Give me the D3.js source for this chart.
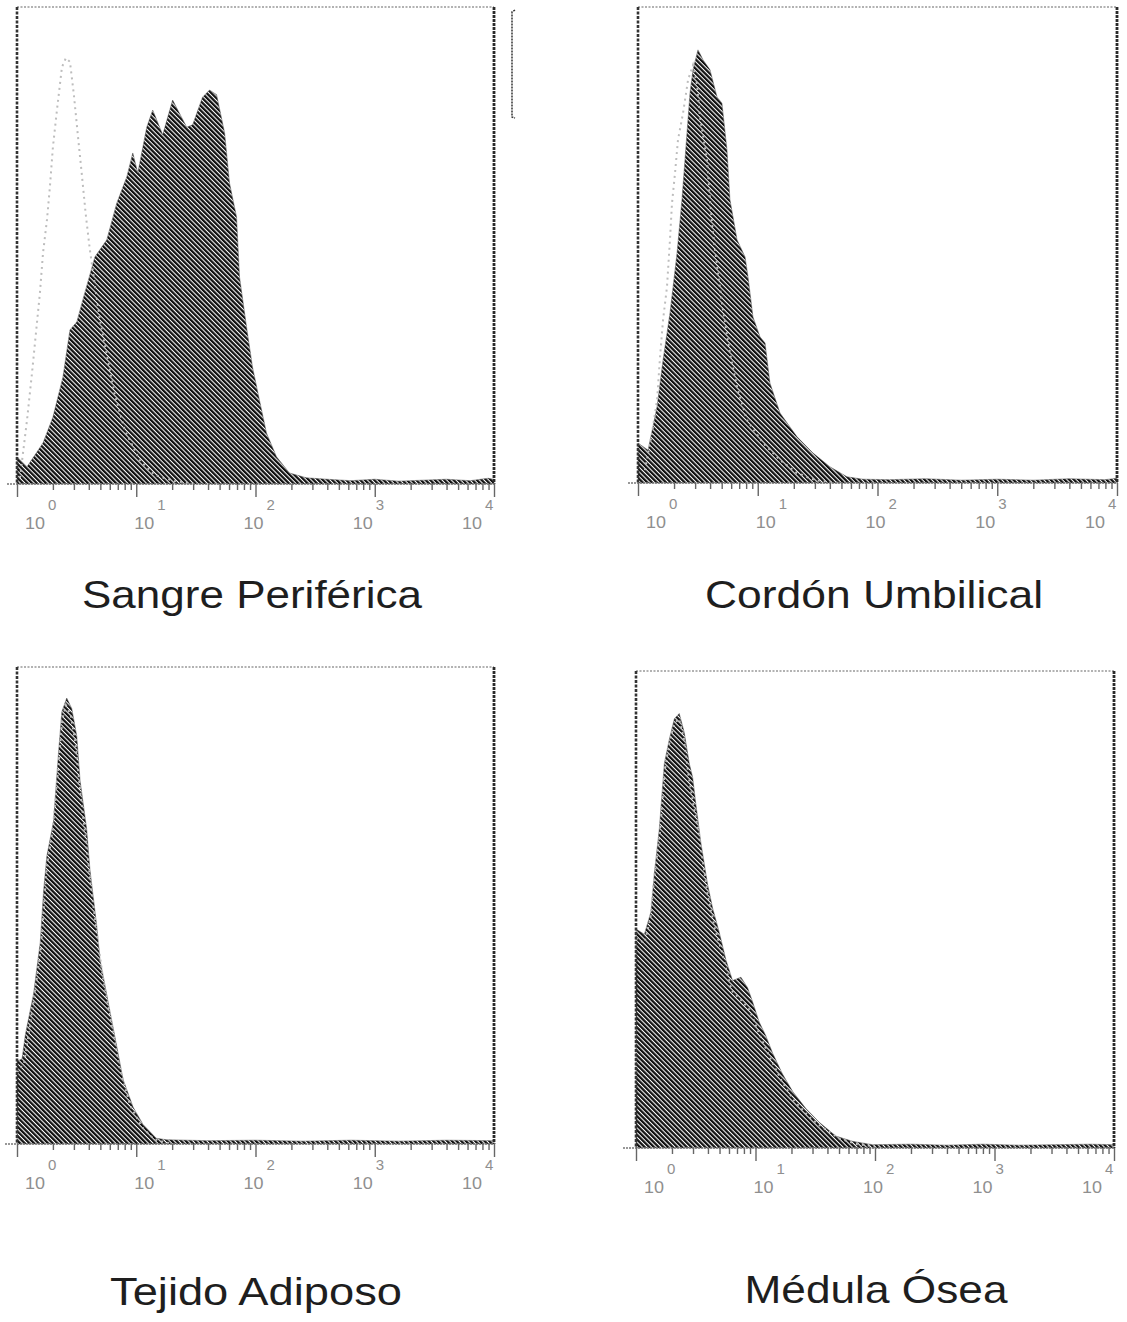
<!DOCTYPE html>
<html><head><meta charset="utf-8">
<script src="https://cdn.jsdelivr.net/npm/d3@7"></script>
<style>body{margin:0;background:#fff}svg{display:block}</style>
</head><body>
<svg id="c" width="1127" height="1322"></svg>
<script>
// ---------- DATA ----------
const categories = ["Sangre Periférica", "Cordón Umbilical", "Tejido Adiposo", "Médula Ósea"];
const tickExponents = [0, 1, 2, 3, 4];
const tickLabelBase = "10";
const minorMultipliers = [2, 3, 4, 5, 6, 7, 8, 9];

// [log10(intensity), relative count %]
const sangreStained = [[0,5.7],[0.084,3.6],[0.218,8.6],[0.301,14.0],[0.385,22.4],[0.444,32.3],[0.502,34.0],[0.552,38.6],[0.653,47.6],[0.753,51.2],[0.837,58.9],[0.921,64.4],[0.971,69.4],[1.013,65.2],[1.088,74.8],[1.138,78.4],[1.222,73.2],[1.305,80.5],[1.423,74.8],[1.473,75.3],[1.556,81.1],[1.615,82.6],[1.674,81.6],[1.741,73.6],[1.782,63.1],[1.841,56.0],[1.866,43.4],[1.925,32.9],[1.975,24.5],[2.033,17.6],[2.092,10.7],[2.176,5.7],[2.285,2.3],[2.427,1.3],[2.6,1.0],[2.8,0.7],[3.0,1.0],[3.2,0.6],[3.4,0.8],[3.6,1.0],[3.8,0.7],[3.95,1.2],[4.0,1.0]];
const sangreControl = [[0.025,1.3],[0.084,13.4],[0.126,23.3],[0.159,31.7],[0.192,40.0],[0.218,48.4],[0.251,55.3],[0.276,62.3],[0.301,70.6],[0.335,78.4],[0.377,87.4],[0.410,89.3],[0.444,88.5],[0.477,81.6],[0.510,73.2],[0.544,64.8],[0.577,56.4],[0.611,49.1],[0.653,41.7],[0.695,34.4],[0.762,26.0],[0.820,18.7],[0.904,11.3],[1.029,5.0],[1.155,1.9],[1.322,0.6],[1.5,0]];

const cordonStained = [[0,8.4],[0.084,6.9],[0.159,16.0],[0.209,25.8],[0.267,35.7],[0.326,48.3],[0.367,59.5],[0.409,73.5],[0.434,81.9],[0.459,86.8],[0.501,91.0],[0.543,88.9],[0.601,86.8],[0.660,81.1],[0.701,79.8],[0.743,70.0],[0.768,59.5],[0.827,51.1],[0.894,47.5],[0.919,43.3],[0.960,34.9],[1.019,30.7],[1.061,29.4],[1.102,21.0],[1.186,14.7],[1.328,9.7],[1.461,6.3],[1.603,3.4],[1.745,1.3],[1.879,0.8],[2.1,0.7],[2.4,0.9],[2.7,0.6],[3.0,0.8],[3.3,0.6],[3.6,0.9],[3.9,0.7],[4.0,1.0]];
const cordonControl = [[0.058,2.7],[0.117,10.5],[0.159,17.4],[0.184,26.5],[0.209,34.2],[0.242,41.2],[0.267,51.1],[0.284,58.8],[0.309,65.1],[0.334,72.1],[0.376,77.7],[0.418,84.7],[0.459,87.8],[0.493,83.6],[0.518,76.9],[0.576,67.9],[0.601,59.5],[0.626,52.5],[0.668,44.1],[0.710,36.3],[0.768,27.3],[0.827,20.2],[0.910,13.2],[1.044,8.4],[1.186,4.8],[1.328,2.1],[1.478,0.6],[1.687,0]];

const tejidoStained = [[0,17.4],[0.042,17.8],[0.070,22.9],[0.139,31.5],[0.195,42.3],[0.223,53.1],[0.250,60.3],[0.306,67.6],[0.348,82.0],[0.376,90.6],[0.417,93.5],[0.459,91.3],[0.501,85.6],[0.529,76.2],[0.584,66.1],[0.612,57.5],[0.640,51.7],[0.668,45.9],[0.696,38.7],[0.751,31.5],[0.807,24.3],[0.890,13.5],[0.974,7.7],[1.057,4.1],[1.168,1.2],[1.252,0.9],[1.6,0.7],[2.0,0.8],[2.4,0.6],[2.8,0.8],[3.2,0.6],[3.6,0.8],[4.0,0.7]];
const tejidoControl = [[0.0,15],[0.06,17],[0.14,30],[0.2,41],[0.25,58],[0.3,66],[0.35,80],[0.38,89],[0.41,92],[0.45,90],[0.49,84],[0.53,74],[0.58,63],[0.62,54],[0.67,44],[0.72,35],[0.78,27],[0.86,16],[0.95,8],[1.05,3.5],[1.15,1],[1.3,0]];

const medulaStained = [[0,45.9],[0.070,44.8],[0.125,49.5],[0.153,57.5],[0.195,66.9],[0.237,80.6],[0.279,85.7],[0.321,90.0],[0.362,91.1],[0.404,87.1],[0.446,80.6],[0.474,77.7],[0.502,71.9],[0.543,64.0],[0.599,55.3],[0.641,50.3],[0.697,45.2],[0.753,39.4],[0.808,35.1],[0.878,35.8],[0.934,33.6],[0.975,30.7],[1.031,26.4],[1.087,23.5],[1.143,19.9],[1.226,15.5],[1.310,11.9],[1.421,8.3],[1.533,5.4],[1.672,2.5],[1.812,1.4],[1.979,0.7],[2.3,0.8],[2.6,0.6],[2.9,0.8],[3.2,0.6],[3.5,0.7],[3.8,0.8],[4.0,0.7]];
const medulaControl = [[0,44],[0.07,43],[0.12,48],[0.15,56],[0.2,66],[0.24,79],[0.28,85],[0.32,89],[0.36,90],[0.4,86],[0.44,78],[0.48,72],[0.52,67],[0.56,60],[0.6,53],[0.66,46],[0.72,41],[0.8,33],[0.88,31],[0.95,29],[1.03,24],[1.12,19],[1.22,14],[1.32,10],[1.45,6.5],[1.55,4.5],[1.7,2],[1.85,0.8],[2.0,0.3]];

const stainedSeries = [sangreStained, cordonStained, tejidoStained, medulaStained];
const controlSeries = [sangreControl, cordonControl, tejidoControl, medulaControl];

// ---------- LAYOUT ----------
const panels = [
  {left:17,  right:494,  top:7,   axisY:484,  axisStart:7,   titleX:252, titleY:608,  titleW:340},
  {left:638, right:1117, top:7,   axisY:483,  axisStart:628, titleX:874, titleY:608,  titleW:338},
  {left:17,  right:494,  top:667, axisY:1144, axisStart:5,   titleX:256, titleY:1305, titleW:292},
  {left:636, right:1114, top:671, axisY:1148, axisStart:623, titleX:876, titleY:1303, titleW:263}
];

const svg = d3.select("#c");
const defs = svg.append("defs");
const pat = defs.append("pattern").attr("id","hatch")
  .attr("patternUnits","userSpaceOnUse").attr("width",3.3).attr("height",3.3)
  .attr("patternTransform","rotate(-45)");
pat.append("rect").attr("width",3.3).attr("height",3.3).attr("fill","#fff");
pat.append("rect").attr("width",2.25).attr("height",3.3).attr("fill","#111");

const font = "Liberation Sans, Arial, sans-serif";

panels.forEach((p, i) => {
  const g = svg.append("g");
  const x = d3.scaleLog().domain([1, 1e4]).range([p.left, p.right]);
  const y = d3.scaleLinear().domain([0, 100]).range([p.axisY, p.top]);

  // stained histogram
  const area = d3.area().x(d => x(Math.pow(10, d[0]))).y0(y(0)).y1(d => y(d[1]));
  g.append("path").datum(stainedSeries[i]).attr("d", area)
    .attr("fill","url(#hatch)").attr("stroke","#555").attr("stroke-width",0.5);

  // control histogram (dotted outline)
  const line = d3.line().x(d => x(Math.pow(10, d[0]))).y(d => y(d[1]));
  g.append("path").datum(controlSeries[i]).attr("d", line)
    .attr("fill","none").attr("stroke","#bdbdbd").attr("stroke-width",2)
    .attr("stroke-dasharray","2,4");

  // frame
  g.append("line").attr("x1",p.left).attr("x2",p.right).attr("y1",p.top).attr("y2",p.top)
    .attr("stroke","#666").attr("stroke-width",1.2).attr("stroke-dasharray","2,1.5");
  g.append("line").attr("x1",p.left).attr("x2",p.left).attr("y1",p.top).attr("y2",p.axisY)
    .attr("stroke","#333").attr("stroke-width",2.6).attr("stroke-dasharray","3,1.5");
  g.append("line").attr("x1",p.right).attr("x2",p.right).attr("y1",p.top).attr("y2",p.axisY)
    .attr("stroke","#2a2a2a").attr("stroke-width",2.8).attr("stroke-dasharray","3,1");

  // axis line
  g.append("line").attr("x1",p.axisStart).attr("x2",p.right+1).attr("y1",p.axisY).attr("y2",p.axisY)
    .attr("stroke","#777").attr("stroke-width",1.4).attr("stroke-dasharray","2,1");

  // ticks via d3 axis
  const majorVals = tickExponents.map(e => Math.pow(10, e));
  const minorVals = [];
  tickExponents.slice(0, -1).forEach(e => minorMultipliers.forEach(m => minorVals.push(m * Math.pow(10, e))));
  const axMinor = d3.axisBottom(x).tickValues(minorVals).tickSize(6).tickFormat("");
  const axMajor = d3.axisBottom(x).tickValues(majorVals).tickSize(13).tickFormat("");
  [axMinor, axMajor].forEach(ax => {
    const a = g.append("g").attr("transform",`translate(0,${p.axisY})`).call(ax);
    a.select(".domain").remove();
    a.selectAll("line").attr("stroke","#666").attr("stroke-width",1.4);
  });

  // tick labels (10 with superscript exponent)
  const lx = d3.scaleLinear().domain([0, 4]).range([p.left + 18, p.right - 22]);
  tickExponents.forEach(e => {
    g.append("text").attr("x", lx(e)).attr("y", p.axisY + 45)
      .attr("text-anchor","middle").attr("font-family",font)
      .attr("font-size",17).attr("fill","#8f8f8f")
      .attr("textLength",20).attr("lengthAdjust","spacingAndGlyphs").text(tickLabelBase);
    g.append("text").attr("x", lx(e) + 13).attr("y", p.axisY + 26)
      .attr("text-anchor","start").attr("font-family",font)
      .attr("font-size",15).attr("fill","#8f8f8f").text(String(e));
  });

  // title
  g.append("text").attr("x", p.titleX).attr("y", p.titleY)
    .attr("text-anchor","middle").attr("font-family",font)
    .attr("font-size",39).attr("fill","#1e1e1e")
    .attr("textLength", p.titleW).attr("lengthAdjust","spacingAndGlyphs")
    .text(categories[i]);

  // gate bracket in first panel
  if (i === 0) {
    const bx = p.right + 18, by0 = p.top + 3, by1 = p.top + 110;
    g.append("path").attr("d", `M${bx+3},${by0} L${bx},${by0+2} L${bx},${by1} L${bx+3},${by1+1}`)
      .attr("fill","none").attr("stroke","#333").attr("stroke-width",1.5).attr("stroke-dasharray","2,1");
  }
});
</script>
</body></html>
